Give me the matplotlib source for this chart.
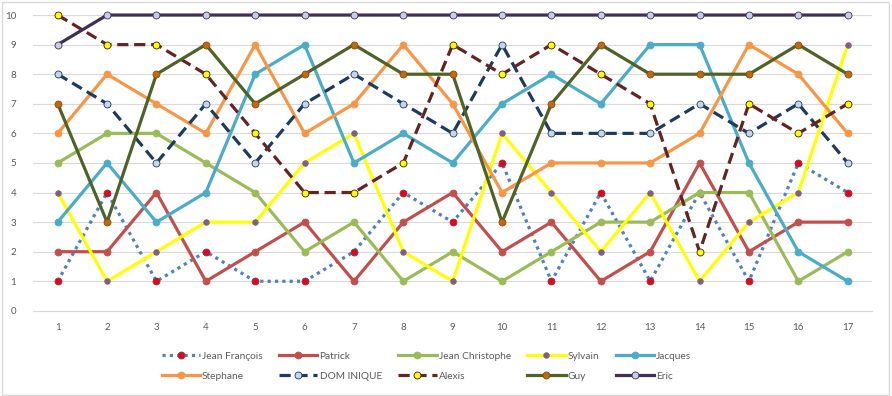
import matplotlib
matplotlib.use('Agg')
import matplotlib.pyplot as plt
from matplotlib.patches import Rectangle

# ── Data ───────────────────────────────────────────────────
rounds = list(range(1, 18))

jean_francois    = [1, 4, 1, 2, 1, 1, 2, 4, 3, 5, 1, 4, 1, 4, 1, 5, 4]
patrick          = [2, 2, 4, 1, 2, 3, 1, 3, 4, 2, 3, 1, 2, 5, 2, 3, 3]
jean_christophe  = [5, 6, 6, 5, 4, 2, 3, 1, 2, 1, 2, 3, 3, 4, 4, 1, 2]
sylvain          = [4, 1, 2, 3, 3, 5, 6, 2, 1, 6, 4, 2, 4, 1, 3, 4, 9]
jacques          = [3, 5, 3, 4, 8, 9, 5, 6, 5, 7, 8, 7, 9, 9, 5, 2, 1]
stephane         = [6, 8, 7, 6, 9, 6, 7, 9, 7, 4, 5, 5, 5, 6, 9, 8, 6]
dominique        = [8, 7, 5, 7, 5, 7, 8, 7, 6, 9, 6, 6, 6, 7, 6, 7, 5]
alexis           = [10, 9, 9, 8, 6, 4, 4, 5, 9, 8, 9, 8, 7, 2, 7, 6, 7]
guy              = [7, 3, 8, 9, 7, 8, 9, 8, 8, 3, 7, 9, 8, 8, 8, 9, 8]
eric             = [9, 10, 10, 10, 10, 10, 10, 10, 10, 10, 10, 10, 10, 10, 10, 10, 10]

names = ['Jean François', 'Patrick', 'Jean Christophe', 'Sylvain', 'Jacques',
         'Stephane', 'DOM INIQUE', 'Alexis', 'Guy', 'Eric']
series = [jean_francois, patrick, jean_christophe, sylvain, jacques,
          stephane, dominique, alexis, guy, eric]

# (line colour, marker face, marker edge, linestyle, marker size)
STYLES = [
    ('#4F81BD', '#E8001C', '#7F3F3F', (0, (1, 1.3)), 5),
    ('#C0504D', '#C0504D', '#C0504D', '-', 5),
    ('#9BBB59', '#9BBB59', '#9BBB59', '-', 5),
    ('#FFFF00', '#7F6084', '#7F6084', '-', 4),
    ('#4BACC6', '#4BACC6', '#4BACC6', '-', 5),
    ('#F79646', '#F79646', '#F79646', '-', 5),
    ('#1F3B5C', '#C6D4EC', '#1F3B5C', (0, (3.5, 1.8)), 5),
    ('#632523', '#FFFF00', '#3A1A10', (0, (3.5, 1.8)), 5),
    ('#4F6228', '#C0690F', '#8A4A0A', '-', 5),
    ('#403152', '#C6CEE8', '#403152', '-', 5),
]

plt.rcParams['font.family'] = ['Lato', 'DejaVu Sans']

fig = plt.figure(figsize=(8.92, 3.96), dpi=100)
ax = fig.add_axes([0.037, 0.215, 0.941, 0.747])

handles = []
for vals, name, (lc, mf, me, ls, ms) in zip(series, names, STYLES):
    h, = ax.plot(rounds, vals, color=lc, lw=2.3, ls=ls,
                 marker='o', markersize=ms, markerfacecolor=mf,
                 markeredgecolor=me, markeredgewidth=0.6,
                 label=name, solid_joinstyle='round', clip_on=False)
    handles.append(h)

ax.set_xlim(0.5, 17.5)
ax.set_ylim(0, 10)
ax.set_yticks(range(0, 11))
ax.set_xticks(rounds)
ax.grid(axis='y', color='#D9D9D9', lw=0.8)
ax.set_axisbelow(True)
for s in ax.spines.values():
    s.set_visible(False)
ax.spines['bottom'].set_visible(True)
ax.spines['bottom'].set_color('#D9D9D9')
ax.tick_params(length=0, labelsize=7, colors='#595959', pad=9)
ax.tick_params(axis='y', pad=12)

# legend: 5 columns, filled row-wise
order = [0, 5, 1, 6, 2, 7, 3, 8, 4, 9]
leg = fig.legend([handles[i] for i in order], [names[i] for i in order],
                 ncol=5, loc='center', bbox_to_anchor=(0.478, 0.075),
                 frameon=False, fontsize=7.3, labelcolor='#595959',
                 handlelength=3.8, handletextpad=0.2, columnspacing=1.6,
                 labelspacing=1.05)

# chart-area border
fig.patches.append(Rectangle((0.002, 0.003), 0.995, 0.993, transform=fig.transFigure,
                             fill=False, edgecolor='#D9D9D9', lw=1))

fig.savefig('out.png', dpi=100)
